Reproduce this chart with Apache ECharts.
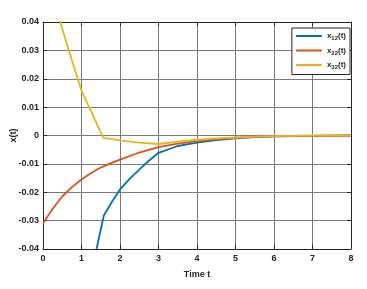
<!DOCTYPE html>
<html><head><meta charset="utf-8">
<script src="https://cdn.jsdelivr.net/npm/echarts@6/dist/echarts.min.js"></script>
<style>html,body{margin:0;padding:0;background:#fff}#c{width:367px;height:289px}</style>
</head><body><div id="c"></div>
<script>
const seriesNames = ['x12', 'x22', 'x32'];
const x12 = [[1.39,-0.04],[1.58,-0.0282],[1.8,-0.0232],[2,-0.019],[2.25,-0.0153],[2.5,-0.012],[2.75,-0.0089],[3,-0.0061],[3.5,-0.0037],[4,-0.0025],[4.5,-0.0016],[5,-0.001],[5.5,-0.0006],[6,-0.0003],[7,-0.0001],[8,0]];
const x22 = [[0,-0.031],[0.25,-0.0258],[0.5,-0.0215],[0.75,-0.0182],[1,-0.0155],[1.25,-0.0132],[1.5,-0.0113],[1.75,-0.0098],[2,-0.0085],[2.5,-0.006],[3,-0.0041],[3.5,-0.0029],[4,-0.002],[4.5,-0.0013],[5,-0.0008],[5.5,-0.0005],[6,-0.0003],[7,-0.0001],[8,0]];
const x32 = [[0.4,0.0425],[0.5,0.0375],[0.75,0.0265],[1,0.0158],[1.25,0.0085],[1.4,0.004],[1.57,-0.0008],[2,-0.0017],[2.5,-0.0025],[3,-0.003],[3.5,-0.0022],[4,-0.0015],[4.5,-0.001],[5,-0.0007],[5.5,-0.0004],[6,-0.0002],[7,0],[8,0]];
const xTicks = [0,1,2,3,4,5,6,7,8];
const yTicks = [-0.04,-0.03,-0.02,-0.01,0,0.01,0.02,0.03,0.04];
const colors = ['#0072BD','#D95319','#EDB120'];
const legendLabels = {x12:'x{s|12}(t)', x22:'x{s|22}(t)', x32:'x{s|32}(t)'};

const chart = echarts.init(document.getElementById('c'));
const fnt = 'Liberation Sans, Arial, sans-serif';
const axCommon = {
  axisLine:{show:true,onZero:false,lineStyle:{color:'#262626',width:1}},
  axisTick:{show:true,inside:true,length:4,lineStyle:{color:'#262626'}},
  splitLine:{show:true,lineStyle:{color:'#7a7a7a',width:1}}
};
chart.setOption({
  animation:false,
  grid:{left:43,right:16,top:22,bottom:40,containLabel:false,outerBoundsMode:'none'},
  xAxis:[
    Object.assign({type:'value',min:0,max:8,interval:1,name:'Time t',nameLocation:'middle',nameGap:21,
      nameTextStyle:{fontFamily:fnt,fontSize:9,fontWeight:'bold',color:'#262626'},
      axisLabel:{fontFamily:fnt,fontSize:9,fontWeight:'bold',color:'#262626',margin:5}},axCommon),
    {type:'value',min:0,max:8,interval:1,position:'top',axisLine:{show:true,onZero:false,lineStyle:{color:'#262626'}},axisTick:{show:true,inside:true,length:4,lineStyle:{color:'#262626'}},axisLabel:{show:false},splitLine:{show:false}}
  ],
  yAxis:[
    Object.assign({type:'value',min:-0.04,max:0.04,interval:0.01,name:'x(t)',nameLocation:'middle',nameGap:25,nameRotate:90,nameMoveOverlap:false,
      nameTextStyle:{fontFamily:fnt,fontSize:9,fontWeight:'bold',color:'#262626'},
      axisLabel:{fontFamily:fnt,fontSize:9,fontWeight:'bold',color:'#262626',margin:4,
        formatter:v=>Math.abs(v)<1e-9?'0':v.toFixed(2)}},axCommon),
    {type:'value',min:-0.04,max:0.04,interval:0.01,position:'right',axisLine:{show:true,onZero:false,lineStyle:{color:'#262626'}},axisTick:{show:true,inside:true,length:4,lineStyle:{color:'#262626'}},axisLabel:{show:false},splitLine:{show:false}}
  ],
  legend:{
    right:17,top:28,orient:'vertical',itemWidth:26,itemHeight:8,itemGap:5,
    padding:[4,4,4,4],backgroundColor:'#fff',borderColor:'#262626',borderWidth:1,borderRadius:0,
    icon:'path://M0,3L26,3L26,5L0,5Z',
    textStyle:{fontFamily:fnt,fontSize:8,fontWeight:'bold',color:'#262626',
      rich:{s:{fontSize:6,fontWeight:'bold',fontFamily:fnt,verticalAlign:'bottom',padding:[5,0,0,0]}}},
    formatter:n=>legendLabels[n],
    data:seriesNames
  },
  series:[x12,x22,x32].map((d,i)=>({
    name:seriesNames[i],type:'line',data:d,showSymbol:false,symbol:'none',smooth:false,
    xAxisIndex:0,yAxisIndex:0,clip:true,
    lineStyle:{color:colors[i],width:1.8},itemStyle:{color:colors[i]}
  }))
});
</script></body></html>
